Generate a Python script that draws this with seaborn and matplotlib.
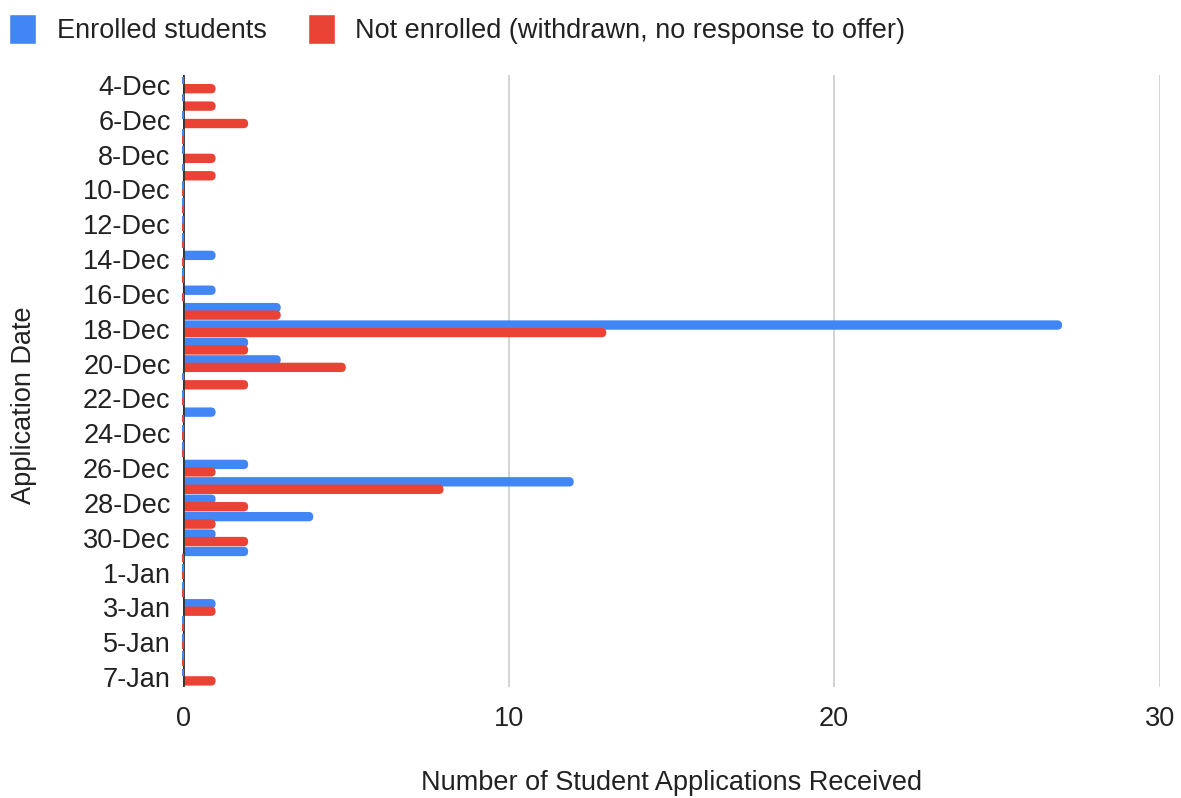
import matplotlib
matplotlib.use("Agg")
import matplotlib.pyplot as plt
from matplotlib.patches import FancyBboxPatch, Rectangle
import pandas as pd
import seaborn as sns

dates = ["4-Dec", "5-Dec", "6-Dec", "7-Dec", "8-Dec", "9-Dec", "10-Dec", "11-Dec",
         "12-Dec", "13-Dec", "14-Dec", "15-Dec", "16-Dec", "17-Dec", "18-Dec", "19-Dec",
         "20-Dec", "21-Dec", "22-Dec", "23-Dec", "24-Dec", "25-Dec", "26-Dec", "27-Dec",
         "28-Dec", "29-Dec", "30-Dec", "31-Dec", "1-Jan", "2-Jan", "3-Jan", "4-Jan",
         "5-Jan", "6-Jan", "7-Jan"]
enrolled = [0, 0, 0, 0, 0, 0, 0, 0, 0, 0, 1, 0, 1, 3, 27, 2, 3, 0, 0, 1, 0, 0,
            2, 12, 1, 4, 1, 2, 0, 0, 1, 0, 0, 0, 0]
not_enrolled = [1, 1, 2, 0, 1, 1, 0, 0, 0, 0, 0, 0, 0, 3, 13, 2, 5, 2, 0, 0, 0, 0,
                1, 8, 2, 1, 2, 0, 0, 0, 1, 0, 0, 0, 1]
series = ["Enrolled students", "Not enrolled (withdrawn, no response to offer)"]
colors = ["#4285F4", "#EA4335"]

df = pd.DataFrame({
    "date": dates * 2,
    "count": enrolled + not_enrolled,
    "status": [series[0]] * len(dates) + [series[1]] * len(dates),
})

sns.set_theme(style="white")
plt.rcParams["font.family"] = ["Liberation Sans", "DejaVu Sans"]
text_col = "#222222"
fs = 19.5

fig = plt.figure(figsize=(11.81, 7.98), dpi=100)
ax = fig.add_axes([0.155, 0.139, 0.827, 0.767])

sns.barplot(data=df, y="date", x="count", hue="status", order=dates,
            hue_order=series, palette=colors, orient="h", width=0.86,
            dodge=True, saturation=1, ax=ax, legend=True)

ax.set_xlim(0, 30)
ax.set_ylim(34.57, -0.57)

# zero baseline
ax.axvline(0, color="#333333", linewidth=2.0, zorder=3)

# pixel size of one data unit along each axis, used to keep bar ends circular
bbox = ax.get_window_extent()
px_x = bbox.width / 30.0
px_y = bbox.height / 35.14

# replace the flat bars with slightly thicker, round-ended ones;
# empty days keep a hairline sliver on the baseline
rects = [p for p in ax.patches if hasattr(p, "get_height") and 0 < p.get_height() <= 1]
for p in rects:
    h = p.get_height()
    w = p.get_width()
    fc = p.get_facecolor()
    p.remove()
    c = p.get_y() + h / 2
    nh = h * 1.25
    if w <= 0:
        sliver = 1.3 / px_x
        ax.add_patch(Rectangle((-sliver, c - nh / 2), 2 * sliver, nh * 0.8,
                               facecolor=fc, edgecolor="none", zorder=4,
                               clip_on=False))
        continue
    r_x = (nh * px_y / 2) / px_x
    fb = FancyBboxPatch((-r_x, c - nh / 2), w + r_x, nh,
                        boxstyle=f"round,pad=0,rounding_size={r_x}",
                        mutation_aspect=px_x / px_y,
                        facecolor=fc, edgecolor="none", linewidth=0, zorder=2)
    ax.add_patch(fb)

ax.set_xticks([0, 10, 20, 30])
ax.set_yticks(range(0, len(dates), 2))
ax.set_yticklabels(dates[::2])
ax.tick_params(axis="both", length=0, labelsize=fs, colors=text_col)
ax.tick_params(axis="x", pad=13.5)
ax.tick_params(axis="y", pad=9)

ax.xaxis.grid(True, color="#cccccc", linewidth=1.2)
ax.set_axisbelow(True)
for s in ax.spines.values():
    s.set_visible(False)

ax.set_xlabel("")
ax.set_ylabel("")
fig.text(672 / 1181, 1 - 783 / 798, "Number of Student Applications Received",
         ha="center", va="center", fontsize=fs, color=text_col)
fig.text(24 / 1181, 1 - 405 / 798, "Application Date", rotation=90,
         ha="center", va="center", fontsize=fs, color=text_col)

handles, labels = ax.get_legend_handles_labels()
ax.get_legend().remove()
fig.legend(handles, labels, loc="upper left", bbox_to_anchor=(-0.0127, 1.0125),
           ncol=2, frameon=False, fontsize=fs, handlelength=1.0,
           handleheight=1.3, handletextpad=0.74, columnspacing=1.55,
           labelcolor=text_col, borderaxespad=0.5)

fig.savefig("out.png", dpi=100)
